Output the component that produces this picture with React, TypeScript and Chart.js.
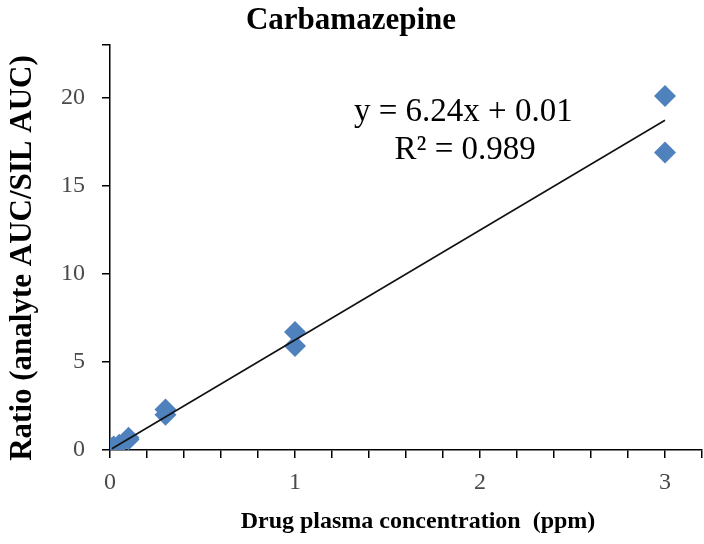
import React, { useEffect, useRef } from "react";
import { Chart, registerables } from "chart.js";

Chart.register(...registerables);

const chartTitle = "Carbamazepine";
const xAxisTitle = "Drug plasma concentration  (ppm)";
const yAxisTitle = "Ratio (analyte AUC/SIL AUC)";

// Calibration points: concentration (ppm) and measured ratio
const concentrations = [0.01, 0.02, 0.05, 0.1, 0.1, 0.3, 0.3, 1, 1, 3, 3];
const ratios = [0.1, 0.2, 0.3, 0.6, 0.7, 2.0, 2.3, 5.9, 6.7, 16.9, 20.1];

// Linear trendline y = slope * x + intercept
const slope = 6.24;
const intercept = 0.01;
const trendX = [0.01, 3];
const equationText = "y = 6.24x + 0.01";
const r2Text = "R² = 0.989";

const xMin = 0;
const xMax = 3.2;
const xStep = 0.2;
const yMin = 0;
const yMax = 23;
const yStep = 5;

const SERIF = "'Liberation Serif', 'Times New Roman', serif";

const textPlugin = {
  id: "textPlugin",
  afterDraw(chart: any) {
    const ctx = chart.ctx;
    const xs = chart.scales.x;
    const ys = chart.scales.y;
    ctx.save();
    ctx.fillStyle = "#000000";
    ctx.font = `33px ${SERIF}`;
    ctx.textAlign = "center";
    ctx.textBaseline = "middle";
    ctx.fillText(equationText, xs.getPixelForValue(1.91), ys.getPixelForValue(19.2));
    ctx.fillText(r2Text, xs.getPixelForValue(1.92), ys.getPixelForValue(17.0));

    // axis titles
    ctx.font = `bold 24px ${SERIF}`;
    ctx.fillText(xAxisTitle, 418, 522);
    ctx.translate(23, 258);
    ctx.rotate(-Math.PI / 2);
    ctx.font = `bold 31px ${SERIF}`;
    ctx.fillText(yAxisTitle, 0, 0);
    ctx.restore();
  },
};

export default function App() {
  const canvasRef = useRef<HTMLCanvasElement | null>(null);

  useEffect(() => {
    if (!canvasRef.current) return;
    const points = concentrations.map((x, i) => ({ x, y: ratios[i] }));
    const trend = trendX.map((x) => ({ x, y: slope * x + intercept }));
    const chart = new Chart(canvasRef.current, {
      type: "scatter",
      data: {
        datasets: [
          {
            label: "Data",
            data: points,
            pointStyle: "rectRot",
            pointRadius: 11,
            pointHoverRadius: 11,
            backgroundColor: "#4F81BD",
            borderColor: "#4F81BD",
            borderWidth: 0,
            order: 2,
          },
          {
            label: "Trend",
            type: "line",
            data: trend,
            borderColor: "#111111",
            borderWidth: 1.6,
            pointRadius: 0,
            fill: false,
            order: 1,
          },
        ],
      },
      plugins: [textPlugin],
      options: {
        animation: false,
        responsive: false,
        maintainAspectRatio: false,
        layout: { autoPadding: false, padding: { left: 0, right: 2, top: 0, bottom: 0 } },
        plugins: {
          legend: { display: false },
          tooltip: { enabled: false },
          title: {
            display: true,
            text: chartTitle,
            color: "#000000",
            font: { family: SERIF, size: 31, weight: "bold", lineHeight: 1.2 },
            padding: { top: 2, bottom: 5.8 },
          },
        },
        scales: {
          x: {
            type: "linear",
            min: xMin,
            max: xMax,
            afterFit: (s: any) => {
              s.height = 94;
              s.paddingLeft = 0;
              s.paddingRight = 0;
            },
            ticks: {
              stepSize: xStep,
              autoSkip: false,
              maxRotation: 0,
              padding: 10,
              color: "#4a4a4a",
              font: { family: SERIF, size: 24 },
              callback: (v: any) => {
                const n = Number(v);
                return Math.abs(n - Math.round(n)) < 1e-6 && n <= 3 ? String(Math.round(n)) : "";
              },
            },
            grid: {
              drawOnChartArea: false,
              drawTicks: true,
              tickLength: 8,
              color: "#000000",
              lineWidth: 1.5,
            },
            border: { display: true, color: "#000000", width: 1.5 },
            title: { display: false },
          },
          y: {
            type: "linear",
            min: yMin,
            max: yMax,
            afterFit: (s: any) => {
              s.width = 110;
            },
            ticks: {
              stepSize: yStep,
              padding: 17,
              color: "#4a4a4a",
              font: { family: SERIF, size: 24 },
              callback: (v: any) => (Number(v) % 5 === 0 ? String(v) : ""),
            },
            grid: {
              drawOnChartArea: false,
              drawTicks: true,
              tickLength: 8,
              color: "#000000",
              lineWidth: 1.5,
            },
            border: { display: true, color: "#000000", width: 1.5 },
            title: { display: false },
          },
        },
      },
    });
    return () => chart.destroy();
  }, []);

  return (
    <div style={{ position: "fixed", left: 0, top: 0, width: 704, height: 544, background: "#ffffff" }}>
      <canvas ref={canvasRef} width={704} height={544} style={{ width: 704, height: 544, display: "block" }} />
    </div>
  );
}
